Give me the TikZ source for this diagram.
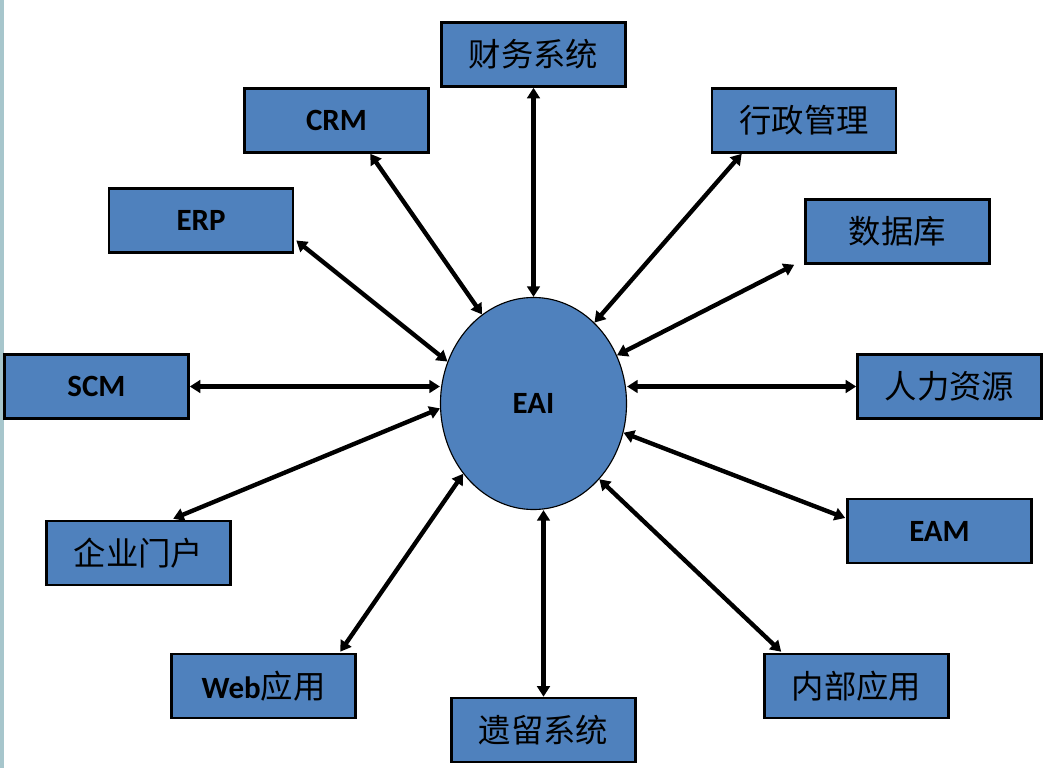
\documentclass[tikz,border=0pt]{standalone}
\usepackage{fontspec}
\setmainfont{Carlito}
\newfontfamily\cjk{Noto Sans CJK SC}
\usetikzlibrary{arrows.meta,calc,shapes.geometric}
\definecolor{boxblue}{HTML}{4F81BD}
\definecolor{stripcol}{HTML}{A7C6CC}
\begin{document}
\begin{tikzpicture}[x=0.025cm,y=-0.025cm,
  sys/.style={draw=black,line width=1.8pt,fill=boxblue,minimum width=4.6cm,minimum height=1.6cm,inner sep=0pt},
  cn/.style={sys,font=\cjk\fontsize{23}{27}\selectfont},
  en/.style={sys,font=\bfseries\fontsize{22}{26}\selectfont},
  link/.style={line width=3.1pt,{Triangle[length=7.5pt,width=9pt]}-{Triangle[length=7.5pt,width=9pt]}}]
\useasboundingbox (0,0) rectangle (1048,768);
\fill[white] (0,0) rectangle (1048,768);
\fill[stripcol] (0,0) rectangle (4,768);

\node[ellipse,draw=black,line width=0.8pt,fill=boxblue,minimum width=4.65cm,minimum height=5.3cm,inner sep=0pt,font=\bfseries\fontsize{22}{26}\selectfont] (eai) at (533.5,403.5) {EAI};

\node[cn] (fin)    at (533.5,54.5)  {财务系统};
\node[en] (crm)    at (336.5,120.5) {CRM};
\node[cn] (admin)  at (804,120.5)   {行政管理};
\node[en] (erp)    at (201,220.5)   {ERP};
\node[cn] (db)     at (897.5,231.5) {数据库};
\node[en] (scm)    at (96.5,386.5)  {SCM};
\node[cn] (hr)     at (949.5,386.5) {人力资源};
\node[cn] (portal) at (138.5,553)   {企业门户};
\node[en] (eam)    at (939.5,531)   {EAM};
\node[sys,font=\fontsize{22}{26}\selectfont] (web) at (263.5,686) {\textbf{Web}{\cjk\fontsize{23}{27}\selectfont 应用}};
\node[cn] (inner)  at (856.5,686)   {内部应用};
\node[cn] (legacy) at (543.5,730)   {遗留系统};

\draw[link] (fin.south) -- (eai.north);
\draw[link] ($(crm.south west)+(127,0)$) -- (eai.120);
\draw[link] ($(admin.south west)+(31,0)$) -- (eai.53);
\draw[link] ($(erp.east)+(2,20)$) -- (eai.154);
\draw[link] ($(db.south west)+(-10,0)$) -- (eai.30);
\draw[link] (scm.east) -- (scm.east -| eai.west);
\draw[link] (hr.west) -- (hr.west -| eai.east);
\draw[link] ($(portal.north west)+(128,-1)$) -- (eai.183);
\draw[link] ($(eam.west)+(-1,-13)$) -- (eai.-18);
\draw[link] ($(web.north west)+(170,-1)$) -- (eai.225);
\draw[link] ($(inner.north west)+(18,-1)$) -- (eai.-49);
\draw[link] (legacy.north) -- (legacy.north |- eai.south);
\end{tikzpicture}
\end{document}
